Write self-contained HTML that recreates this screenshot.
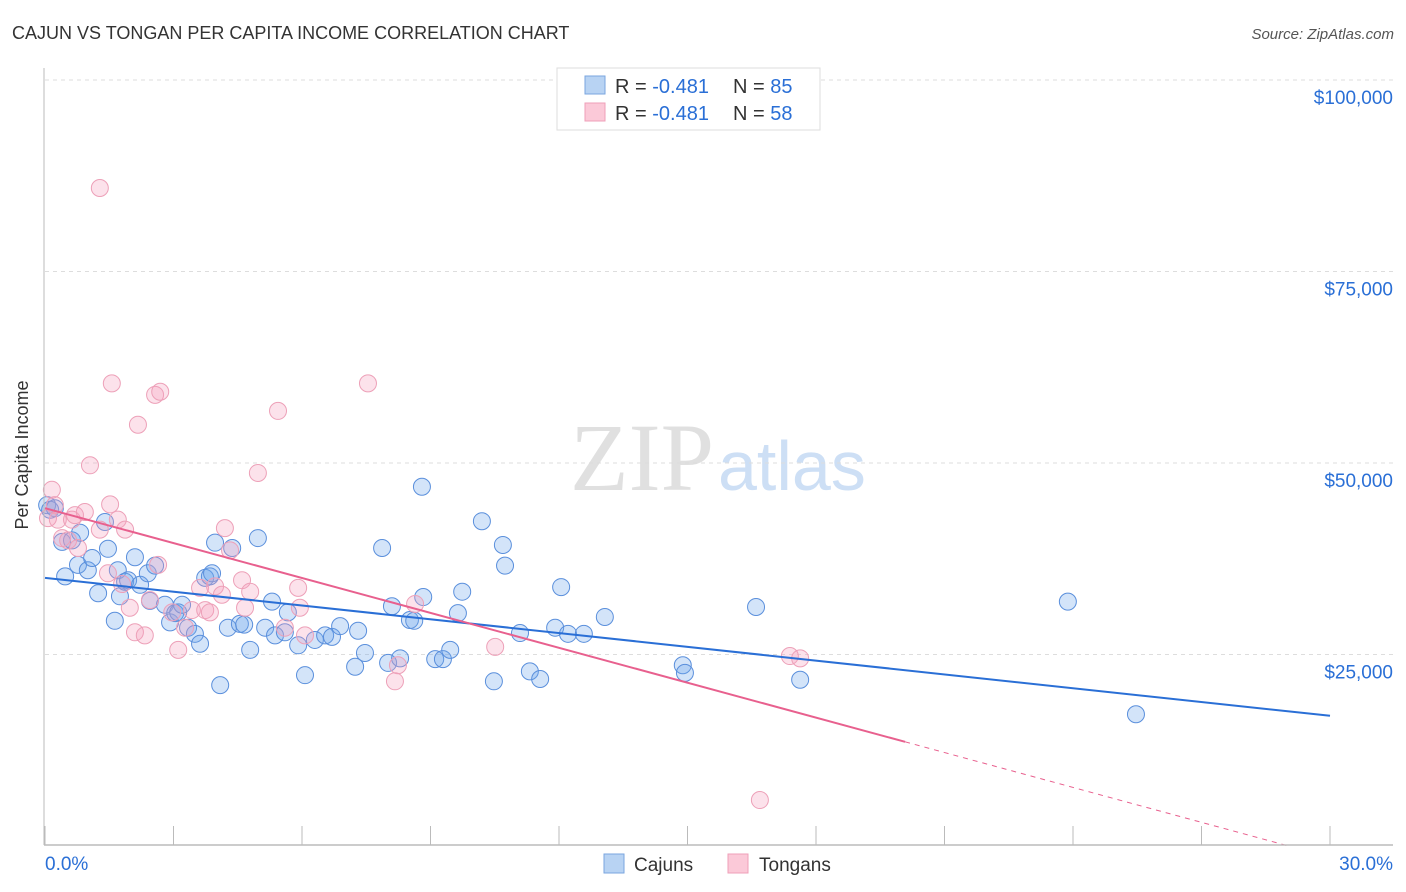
<!DOCTYPE html>
<html><head><meta charset="utf-8"><style>
body{margin:0;background:#fff;font-family:"Liberation Sans",sans-serif;}
svg{display:block}
</style></head><body>
<svg id="c" width="1406" height="892" xmlns="http://www.w3.org/2000/svg">
<text x="12" y="39" font-size="18" fill="#333">CAJUN VS TONGAN PER CAPITA INCOME CORRELATION CHART</text>
<text x="1394" y="39" font-size="15" fill="#555" font-style="italic" text-anchor="end">Source: ZipAtlas.com</text>
<text x="714" y="490" font-size="96" fill="#e0e0e0" text-anchor="end" font-family="Liberation Serif,serif">ZIP</text>
<text x="718" y="490" font-size="70" fill="#cddff5">atlas</text>
<g id="grid"></g><g id="pts"></g><g id="lines"></g><g id="axes"></g>
<text x="28" y="455" font-size="18" fill="#333" text-anchor="middle" transform="rotate(-90 28 455)">Per Capita Income</text>
<g>
<rect x="557" y="68" width="263" height="62" fill="#fff" stroke="#ddd"/>
<rect x="585" y="76" width="20" height="18" fill="#b8d3f3" stroke="#7aa6df"/>
<rect x="585" y="103" width="20" height="18" fill="#fbc9d8" stroke="#ef9fb8"/>
<text x="615" y="93" font-size="20" fill="#333">R = <tspan fill="#2a6fd6">-0.481</tspan></text>
<text x="733" y="93" font-size="20" fill="#333">N = <tspan fill="#2a6fd6">85</tspan></text>
<text x="615" y="120" font-size="20" fill="#333">R = <tspan fill="#2a6fd6">-0.481</tspan></text>
<text x="733" y="120" font-size="20" fill="#333">N = <tspan fill="#2a6fd6">58</tspan></text>
</g>
<g>
<rect x="604" y="854" width="20" height="19" fill="#b8d3f3" stroke="#7aa6df"/>
<text x="634" y="871" font-size="19" fill="#333">Cajuns</text>
<rect x="728" y="854" width="20" height="19" fill="#fbc9d8" stroke="#ef9fb8"/>
<text x="759" y="871" font-size="19" fill="#333">Tongans</text>
</g>
</svg>
<script>
const yTicks=[25000,50000,75000,100000];
const yTickLabels=["$25,000","$50,000","$75,000","$100,000"];
const xTicks=[0,3,6,9,12,15,18,21,24,27,30];
const cajunX=[0.05,0.12,0.23,0.40,0.47,0.63,0.77,0.82,1.00,1.10,1.24,1.40,1.47,1.63,1.70,1.75,1.87,1.94,2.10,2.22,2.40,2.45,2.57,2.80,2.92,3.04,3.11,3.20,3.34,3.50,3.62,3.74,3.85,3.90,3.97,4.09,4.27,4.37,4.55,4.65,4.79,4.97,5.14,5.30,5.37,5.60,5.67,5.91,6.07,6.30,6.54,6.70,6.89,7.31,7.24,7.47,7.87,8.01,8.10,8.29,8.52,8.62,8.80,8.83,9.11,9.29,9.46,9.64,9.74,10.20,10.48,10.69,10.74,11.09,11.32,11.56,11.91,12.05,12.21,12.58,13.07,14.89,14.94,16.60,17.63,23.88,25.47];
const cajunY=[44500,43900,44100,39700,35200,39900,36700,40900,36000,37600,33000,42300,38800,29400,36000,32600,34500,34700,37700,34100,35600,32000,36600,31500,29200,30400,30500,31500,28500,27700,26400,35000,35200,35600,39600,21000,28500,38900,29000,28900,25600,40200,28500,31900,27500,27900,30500,26200,22300,26900,27500,27300,28700,28100,23400,25200,38900,23900,31300,24500,29500,29400,46900,32500,24400,24400,25600,30400,33200,42400,21500,39300,36600,27800,22800,21800,28500,33800,27700,27700,29900,23600,22600,31200,21700,31900,17200];
const tonganX=[0.07,0.16,0.23,0.30,0.40,0.54,0.63,0.70,0.77,0.93,1.05,1.28,1.28,1.47,1.52,1.56,1.70,1.80,1.87,1.98,2.10,2.17,2.33,2.45,2.57,2.69,2.64,2.97,3.11,3.27,3.43,3.62,3.74,3.85,3.97,4.13,4.20,4.32,4.60,4.67,4.79,4.97,5.44,5.60,5.91,5.95,6.07,7.54,8.17,8.24,8.64,10.51,16.69,17.39,17.63];
const tonganY=[42800,46500,44500,42600,40200,39900,42600,43200,38900,43600,49700,85900,41300,35600,44600,60400,42600,34200,41300,31100,27900,55000,27500,32100,58900,59300,36700,30500,25600,28500,30800,33700,30800,30500,33900,32800,41500,38600,34700,31100,33200,48700,56800,28500,33700,31100,27500,60400,21500,23600,31600,26000,6000,24800,24500];
const cajunTrend=[35000,17000];
const tonganTrend=[44100,13600];
const tonganSolidEnd=20.08;

const X0=45,X1=1330,YB=846,PX=191.5/25000;
const sx=v=>X0+(X1-X0)*v/30, sy=v=>YB-v*PX;
const NS="http://www.w3.org/2000/svg";
function mk(t,a,p){const e=document.createElementNS(NS,t);for(const k in a)e.setAttribute(k,a[k]);document.getElementById(p).appendChild(e);return e;}
yTicks.forEach((t,i)=>{
 const g=mk('line',{x1:X0,x2:1393,y1:sy(t),y2:sy(t),stroke:'#ddd','stroke-dasharray':'4 4'},'grid');
 
 
 const l=mk('text',{x:1393,y:sy(t)+24,'font-size':19,fill:'#2a6fd6','text-anchor':'end'},'grid');
 l.textContent=yTickLabels[i];
 
 
});
const ax=mk('line',{x1:44,x2:44,y1:68,y2:845,stroke:'#bbb'},'axes');


const bx=mk('line',{x1:44,x2:1393,y1:845,y2:845,stroke:'#bbb','stroke-width':1.5},'axes');


xTicks.forEach(t=>{const e=mk('line',{x1:sx(t),x2:sx(t),y1:826,y2:845,stroke:'#bbb'},'axes');
 
 });
[["0.0%",45,'start'],["30.0%",1393,'end']].forEach(a=>{const e=mk('text',{x:a[1],y:870,'font-size':19,fill:'#2a6fd6','text-anchor':a[2]},'axes');e.textContent=a[0];
 
 });
cajunX.forEach((x,i)=>{const c=mk('circle',{cx:sx(x),cy:sy(cajunY[i]),r:8.5,fill:'rgba(110,165,235,0.3)',stroke:'#5a8fdc','stroke-width':1},'pts');
 
 });
tonganX.forEach((x,i)=>{const c=mk('circle',{cx:sx(x),cy:sy(tonganY[i]),r:8.5,fill:'rgba(245,160,190,0.3)',stroke:'#eda0b8','stroke-width':1},'pts');
 
 });
const bl=mk('line',{x1:sx(0),y1:sy(cajunTrend[0]),x2:sx(30),y2:sy(cajunTrend[1]),stroke:'#2a6fd6','stroke-width':2},'lines');


const slope=(tonganTrend[1]-tonganTrend[0])/tonganSolidEnd;
const pl=mk('line',{x1:sx(0),y1:sy(tonganTrend[0]),x2:sx(tonganSolidEnd),y2:sy(tonganTrend[1]),stroke:'#e8608e','stroke-width':2},'lines');


const xz=-tonganTrend[0]/slope;
const pd=mk('line',{x1:sx(tonganSolidEnd),y1:sy(tonganTrend[1]),x2:sx(xz),y2:sy(0),stroke:'#e8608e','stroke-width':1,'stroke-dasharray':'5 5'},'lines');


</script>
</body></html>
